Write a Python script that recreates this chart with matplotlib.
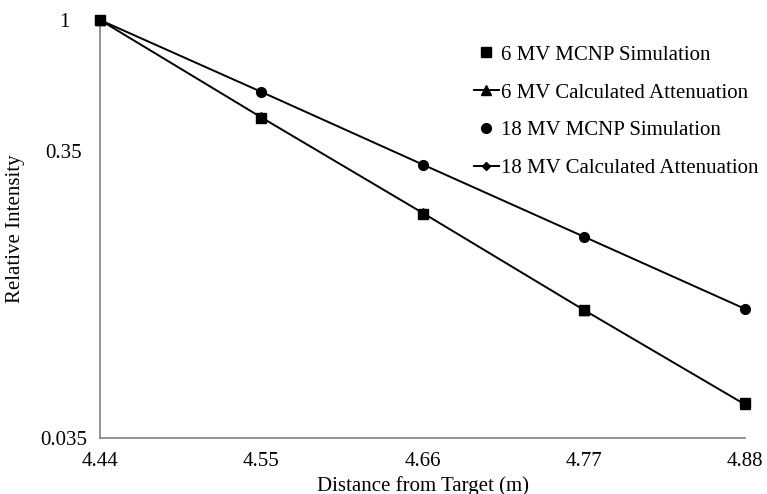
import numpy as np
import matplotlib
matplotlib.use("Agg")
import matplotlib.pyplot as plt

plt.rcParams['font.family'] = ['Liberation Serif', 'DejaVu Serif']

# distance from target (m)
distance = [4.44, 4.55, 4.66, 4.77, 4.88]
# relative intensity
mv6_sim = [1.0, 0.455, 0.211, 0.0976, 0.0463]
mv6_calc = [1.0, 0.458, 0.213, 0.0978, 0.0458]
mv18_sim = [1.0, 0.561, 0.313, 0.175, 0.0984]
mv18_calc = [1.0, 0.562, 0.314, 0.176, 0.0986]

xticks = [4.44, 4.55, 4.66, 4.77, 4.88]
yticks = [0.035, 0.35, 1]
yticklabels = ['0.035', '0.35', '1']

fig = plt.figure(figsize=(7.67, 4.94), dpi=100)
ax = fig.add_axes([0.1304, 0.1134, 0.8409, 0.8461])

ax.plot(distance, mv6_sim, linestyle='none', marker='s', ms=7.5, color='black',
        label='6 MV MCNP Simulation', clip_on=False, zorder=4)
ax.plot(distance, mv6_calc, '-', marker='^', ms=7, lw=1.4, color='black',
        label='6 MV Calculated Attenuation', clip_on=False, zorder=3)
ax.plot(distance, mv18_sim, linestyle='none', marker='o', ms=7, color='black',
        label='18 MV MCNP Simulation', clip_on=False, zorder=4)
ax.plot(distance, mv18_calc, '-', marker='D', ms=4.5, lw=1.4, color='black',
        label='18 MV Calculated Attenuation', clip_on=False, zorder=3)

ax.set_yscale('log')
ax.set_ylim(0.035, 1)
ax.set_xlim(4.44, 4.88)
ax.set_yticks(yticks)
ax.set_yticklabels(yticklabels, ha='center')
ax.minorticks_off()
ax.set_xticks(xticks)
ax.set_xticklabels(['%.2f' % x for x in xticks])
ax.tick_params(length=0, labelsize=15)
ax.tick_params(axis='y', pad=26)
ax.tick_params(axis='x', pad=10)

for s in ['top', 'right']:
    ax.spines[s].set_visible(False)
for s in ['left', 'bottom']:
    ax.spines[s].set_color('#808080')
    ax.spines[s].set_linewidth(1.2)

ax.set_xlabel('Distance from Target (m)', fontsize=15, labelpad=4)
ax.set_ylabel('Relative Intensity', fontsize=15)
ax.yaxis.set_label_coords(-0.117, 0.5)

ax.legend(loc='upper right', bbox_to_anchor=(1.05, 0.985), frameon=False,
          fontsize=15, handlelength=1.2, handletextpad=0.1, labelspacing=0.88)

fig.savefig('out.png', dpi=100)
